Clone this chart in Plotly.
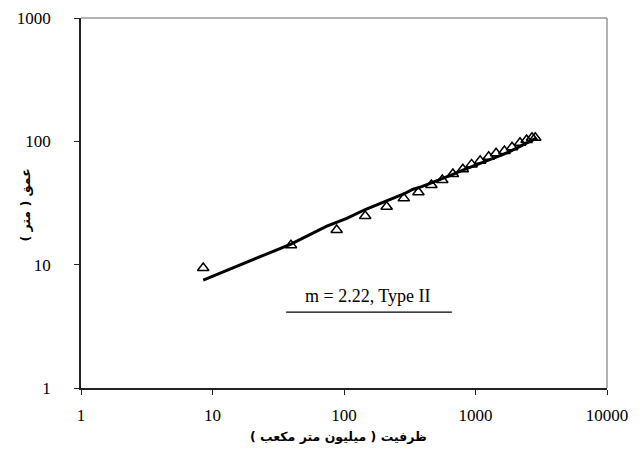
import plotly.graph_objects as go

# Observed points (capacity in million m3, depth in m)
obs_capacity = [8.5, 39.5, 88, 145, 211, 285, 368, 462, 559, 673, 801, 933,
                1085, 1260, 1434, 1660, 1897, 2181, 2447, 2690, 2848]
obs_depth = [9.4, 14.4, 19.1, 24.8, 29.5, 34.5, 38.6, 44.3, 48.6, 54.3, 59.3, 65.0,
             69.6, 75.0, 80.0, 83.5, 89.5, 97.5, 102.5, 107, 107]

# Computed curve (m = 2.22, Type II)
fit_capacity = [8.5, 39.5, 74, 105, 145, 210, 285, 335, 368, 462, 559, 673, 801,
                933, 1085, 1260, 1434, 1660, 1897, 2181, 2447, 2690, 2900]
fit_depth = [7.5, 14.7, 20.5, 23.7, 28.0, 32.8, 37.4, 40.9, 42.0, 46.1, 50.3, 54.0,
             58.3, 62.0, 66.5, 70.5, 73.6, 79.0, 84.5, 91.0, 97.0, 102.0, 106.0]

x_ticks = [1, 10, 100, 1000, 10000]
y_ticks = [1, 10, 100, 1000]

x_title = "ظرفیت ( میلیون متر مکعب )"
y_title = "عمق ( متر )"
label_text = "m = 2.22, Type II"

FONT = "Liberation Serif, Times New Roman, DejaVu Serif, serif"
AFONT = "DejaVu Sans, Noto Sans, sans-serif"

fig = go.Figure()
fig.add_trace(go.Scatter(
    x=fit_capacity, y=fit_depth, mode="lines",
    line=dict(color="black", width=3), showlegend=False))
fig.add_trace(go.Scatter(
    x=obs_capacity, y=obs_depth, mode="markers",
    marker=dict(symbol="triangle-up-open", size=10, color="black",
                line=dict(color="black", width=1.5)),
    showlegend=False))

# page has an 8px body margin: the figure is drawn from (8, 8)
fig.update_layout(
    width=632, height=442,
    margin=dict(l=73, r=33, t=10, b=62, autoexpand=False),
    paper_bgcolor="white", plot_bgcolor="white",
    font=dict(family=FONT, size=17, color="black"),
    xaxis=dict(type="log", range=[0, 4], tickvals=x_ticks,
               ticktext=[str(v) for v in x_ticks],
               showgrid=False, zeroline=False, showline=True,
               linecolor="#222", linewidth=1.5, ticks="outside",
               ticklen=5, tickcolor="#222", tickwidth=1,
               ticklabelstandoff=6,
               tickfont=dict(family=FONT, size=17)),
    yaxis=dict(type="log", range=[0, 3], tickvals=y_ticks,
               ticktext=[str(v) for v in y_ticks],
               showgrid=False, zeroline=False, showline=True,
               linecolor="#222", linewidth=1.5, ticks="outside",
               ticklen=5, tickcolor="#222", tickwidth=1,
               ticklabelstandoff=20,
               tickfont=dict(family=FONT, size=17)),
)

# gray top/right frame
fig.add_shape(type="line", xref="paper", yref="paper", x0=0, x1=1, y0=1, y1=1,
              line=dict(color="#999", width=1.5))
fig.add_shape(type="line", xref="paper", yref="paper", x0=1, x1=1, y0=0, y1=1,
              line=dict(color="#999", width=1.5))

# axis titles
fig.add_annotation(text="<b>" + x_title + "</b>", xref="paper", yref="paper",
                   x=0.49, y=-0.13, xanchor="center", yanchor="middle",
                   showarrow=False, font=dict(family=AFONT, size=12.5, color="black"))
fig.add_annotation(text="<b>" + y_title + "</b>", xref="paper", yref="paper",
                   x=-0.105, y=0.495, xanchor="center", yanchor="middle",
                   textangle=-90, showarrow=False,
                   font=dict(family=AFONT, size=12.5, color="black"))

# label and underline
fig.add_annotation(text=label_text, xref="paper", yref="paper",
                   x=0.546, y=0.25, xanchor="center", yanchor="middle",
                   showarrow=False, font=dict(family=FONT, size=18, color="black"))
fig.add_shape(type="line", xref="paper", yref="paper", x0=0.390, x1=0.705,
              y0=0.205, y1=0.205, line=dict(color="black", width=1.2))

fig.write_html("out.html")
